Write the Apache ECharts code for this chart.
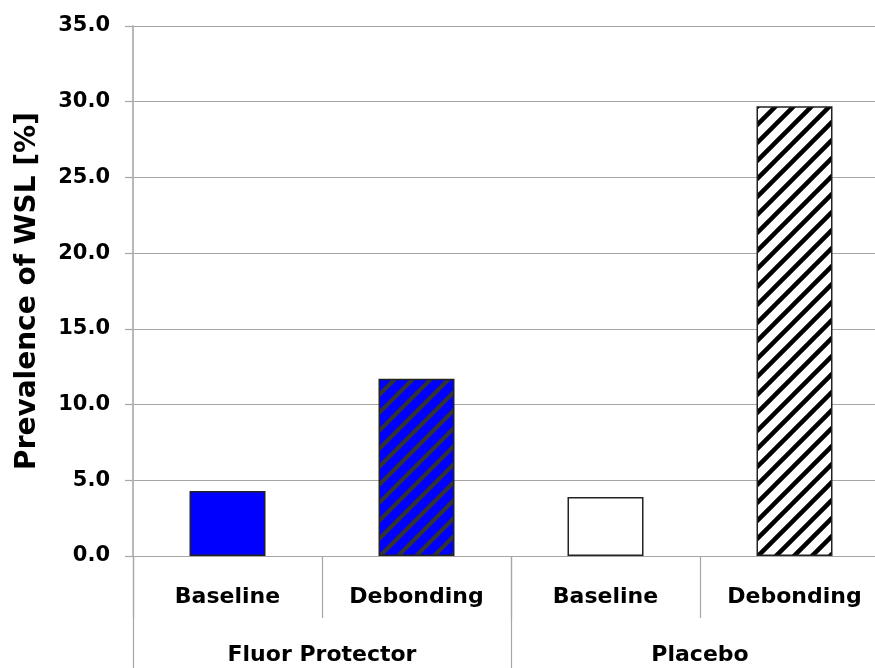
<!DOCTYPE html>
<html>
<head>
<meta charset="utf-8">
<script src="https://cdn.jsdelivr.net/npm/echarts@6/dist/echarts.min.js"></script>
<style>
html,body{margin:0;padding:0;background:#fff;overflow:hidden;width:875px;height:668px;}
#chart{width:889px;height:668px;}
</style>
</head>
<body>
<div id="chart"></div>
<script>
// ---- data ----
const groups = ['Fluor Protector', 'Placebo'];
const categories = ['Baseline', 'Debonding', 'Baseline', 'Debonding'];
const values = [4.3, 11.7, 3.9, 29.7];
const yTicks = [0, 5, 10, 15, 20, 25, 30, 35];
const yTitle = 'Prevalence of WSL [%]';

// ---- styles ----
const FONT = 'DejaVu Sans';
function stripes(bg, fg, lw) {
  const s = 18;
  const c = document.createElement('canvas');
  c.width = s; c.height = s;
  const ctx = c.getContext('2d');
  ctx.fillStyle = bg; ctx.fillRect(0, 0, s, s);
  ctx.strokeStyle = fg; ctx.lineWidth = lw;
  ctx.beginPath();
  ctx.moveTo(0, s); ctx.lineTo(s, 0);
  ctx.moveTo(-s / 2, s / 2); ctx.lineTo(s / 2, -s / 2);
  ctx.moveTo(s / 2, 3 * s / 2); ctx.lineTo(3 * s / 2, s / 2);
  ctx.stroke();
  return { image: c, repeat: 'repeat' };
}
const fills = [
  '#0000ff',
  stripes('#0000ff', '#333333', 4.2),
  '#ffffff',
  stripes('#ffffff', '#000000', 4.5)
];

const chart = echarts.init(document.getElementById('chart'), null, { renderer: 'canvas' });
chart.setOption({
  animation: false,
  backgroundColor: '#ffffff',
  grid: { left: 133, right: 0, top: 26, bottom: 112, containLabel: false },
  xAxis: [
    {
      type: 'category',
      data: categories,
      position: 'bottom',
      offset: 0,
      axisLine: { show: true, lineStyle: { color: '#a6a6a6', width: 1.2 } },
      axisTick: { show: true, length: 62, alignWithLabel: false, lineStyle: { color: '#a6a6a6', width: 1.2 } },
      axisLabel: { color: '#000', fontFamily: FONT, fontWeight: 'bold', fontSize: 22, margin: 30, interval: 0 },
      splitLine: { show: false }
    },
    {
      type: 'category',
      data: groups,
      position: 'bottom',
      offset: 0,
      axisLine: { show: false },
      axisTick: { show: true, length: 115, alignWithLabel: false, lineStyle: { color: '#a6a6a6', width: 1.2 } },
      axisLabel: { color: '#000', fontFamily: FONT, fontWeight: 'bold', fontSize: 22, margin: 88, interval: 0 },
      splitLine: { show: false }
    }
  ],
  yAxis: {
    type: 'value',
    min: yTicks[0],
    max: yTicks[yTicks.length - 1],
    interval: yTicks[1] - yTicks[0],
    name: yTitle,
    nameLocation: 'middle',
    nameGap: 91,
    nameTextStyle: { color: '#000', fontFamily: FONT, fontWeight: 'bold', fontSize: 28 },
    axisLine: { show: true, lineStyle: { color: '#b8b8b8', width: 2 } },
    axisTick: { show: true, length: 8, lineStyle: { color: '#a6a6a6', width: 1.2 } },
    axisLabel: {
      color: '#000', fontFamily: FONT, fontWeight: 'bold', fontSize: 21, margin: 23,
      formatter: v => v.toFixed(1)
    },
    splitLine: { show: true, lineStyle: { color: '#a6a6a6', width: 1.2 } }
  },
  series: [{
    type: 'bar',
    xAxisIndex: 0,
    barWidth: 76,
    data: values.map((v, i) => ({
      value: v,
      itemStyle: { color: fills[i], borderColor: '#222', borderWidth: 1.5 }
    }))
  }]
});
</script>
</body>
</html>
